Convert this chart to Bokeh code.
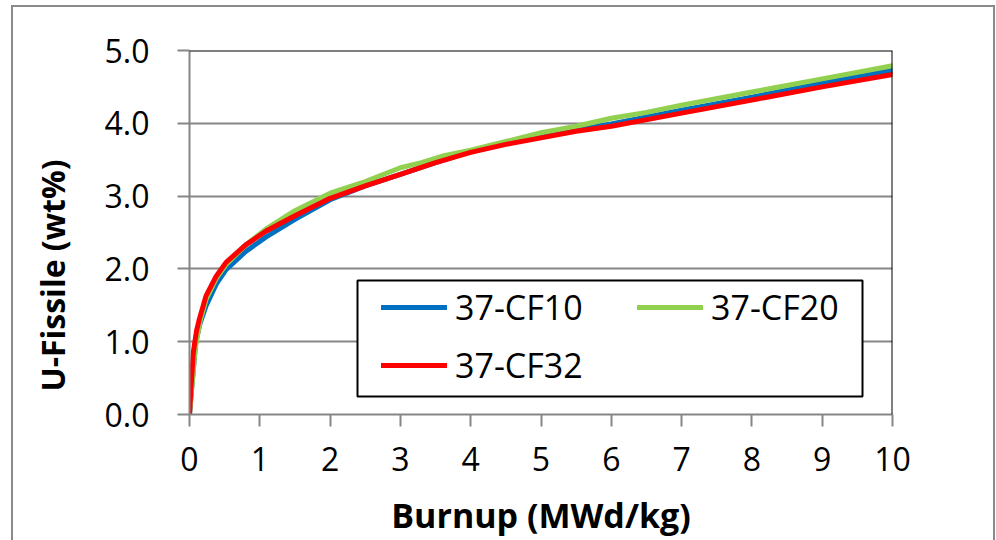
from bokeh.plotting import figure
from bokeh.models import (Range1d, Span, Legend, LegendItem, BoxAnnotation, FixedTicker,
                          CustomJSTickFormatter, Title, InlineStyleSheet)
from bokeh.embed import file_html
from bokeh.resources import INLINE

# Burnup (MWd/kg) vs U-Fissile (wt%)
x_cf10 = [0, 0.03, 0.09, 0.15, 0.235, 0.38, 0.52, 0.8, 1.09, 1.5, 2.0, 2.5, 3.0, 3.5, 4.0, 4.5, 5.0, 5.5, 6.0, 7.0, 8.0, 9.0, 10.0]
y_cf10 = [0, 0.35, 1.00, 1.25, 1.49, 1.79, 1.99, 2.24, 2.44, 2.68, 2.95, 3.14, 3.30, 3.46, 3.61, 3.72, 3.82, 3.91, 3.99, 4.18, 4.36, 4.55, 4.73]

x_cf20 = [0, 0.04, 0.08, 0.15, 0.235, 0.38, 0.52, 0.8, 1.09, 1.5, 2.0, 2.5, 3.0, 3.3, 3.6, 4.0, 4.5, 5.0, 5.5, 6.0, 6.5, 7.0, 8.0, 9.0, 10.0]
y_cf20 = [0, 0.45, 0.90, 1.28, 1.58, 1.87, 2.06, 2.33, 2.55, 2.80, 3.04, 3.20, 3.39, 3.46, 3.55, 3.63, 3.75, 3.87, 3.96, 4.07, 4.15, 4.25, 4.43, 4.61, 4.79]

x_cf32 = [0, 0.02, 0.055, 0.1, 0.14, 0.235, 0.38, 0.52, 0.8, 1.09, 1.5, 2.0, 2.5, 3.0, 3.5, 4.0, 4.5, 5.0, 5.5, 6.0, 7.0, 8.0, 9.0, 10.0]
y_cf32 = [0, 0.35, 0.86, 1.15, 1.31, 1.63, 1.90, 2.09, 2.33, 2.52, 2.73, 2.97, 3.14, 3.30, 3.46, 3.60, 3.71, 3.80, 3.89, 3.96, 4.14, 4.32, 4.50, 4.67]

series_names = ["37-CF10", "37-CF20", "37-CF32"]
series_colors = ["#0070C0", "#92D050", "#FF0000"]

x_ticks = list(range(0, 11))
y_ticks = [0, 1, 2, 3, 4, 5]

FONT = "Open Sans"

outer_border = InlineStyleSheet(css="""
:host::after {
  content: "";
  position: absolute;
  left: 11px; top: 5px;
  width: 980px; height: 600px;
  border: 2px solid #8a8a8a;
  pointer-events: none;
}
""")

p = figure(width=996, height=540, output_backend="svg", toolbar_location=None,
           x_range=Range1d(0, 10), y_range=Range1d(0, 5),
           min_border_left=189, min_border_right=104, min_border_top=50, min_border_bottom=124,
           stylesheets=[outer_border])
p.outline_line_color = None
p.background_fill_color = "white"
p.border_fill_color = "white"

p.xgrid.grid_line_color = None
p.ygrid.grid_line_color = "#868686"
p.ygrid.grid_line_width = 2

for ax in (p.xaxis[0], p.yaxis[0]):
    ax.axis_line_color = "#868686"
    ax.axis_line_width = 2
    ax.major_tick_line_color = "#868686"
    ax.major_tick_line_width = 2
    ax.major_tick_out = 12
    ax.major_tick_in = 0
    ax.minor_tick_line_color = None
    ax.major_label_text_font = FONT
    ax.major_label_text_font_size = "32px"
    ax.major_label_text_color = "black"
    ax.axis_label_text_font = FONT
    ax.axis_label_text_font_style = "bold"
    ax.axis_label_text_color = "black"

p.xaxis.ticker = FixedTicker(ticks=x_ticks)
p.yaxis.ticker = FixedTicker(ticks=y_ticks)
p.yaxis.formatter = CustomJSTickFormatter(code="return tick.toFixed(1);")
p.xaxis.axis_label = "Burnup (MWd/kg)"
p.xaxis.axis_label_text_font_size = "34px"
p.xaxis.major_label_standoff = 20
p.yaxis.major_label_standoff = 28
p.xaxis.axis_label_standoff = 18

# y-axis title, sitting a little below the plot's centre as in the original
p.add_layout(Title(text="U-Fissile (wt%)", align="left", offset=23, standoff=56,
                   text_font=FONT, text_font_style="bold", text_font_size="32px",
                   text_color="black"), "left")

# top/right black frame edges
p.add_layout(Span(location=5, dimension="width", line_color="black", line_width=2))
p.add_layout(Span(location=10, dimension="height", line_color="black", line_width=2))

renderers = []
for xs, ys, c in zip([x_cf10, x_cf20, x_cf32], [y_cf10, y_cf20, y_cf32], series_colors):
    r = p.line(xs, ys, line_color=c, line_width=5, line_join="round", line_cap="round")
    renderers.append(r)

# legend frame
p.add_layout(BoxAnnotation(left=168, right=673, bottom=18, top=134,
                           left_units="screen", right_units="screen",
                           top_units="screen", bottom_units="screen",
                           fill_color="white", fill_alpha=1,
                           line_color="black", line_width=2, line_alpha=1))

legend = Legend(items=[LegendItem(label=n, renderers=[r]) for n, r in zip(series_names, renderers)],
                location=(192, 26), orientation="horizontal", ncols=2,
                label_text_font=FONT, label_text_font_size="34px", label_text_color="black",
                glyph_width=66, glyph_height=44, label_standoff=8, label_width=170,
                spacing=12, padding=0, margin=0,
                border_line_color=None, background_fill_alpha=0)
p.add_layout(legend, "center")

open("out.html", "w").write(file_html(p, INLINE))
